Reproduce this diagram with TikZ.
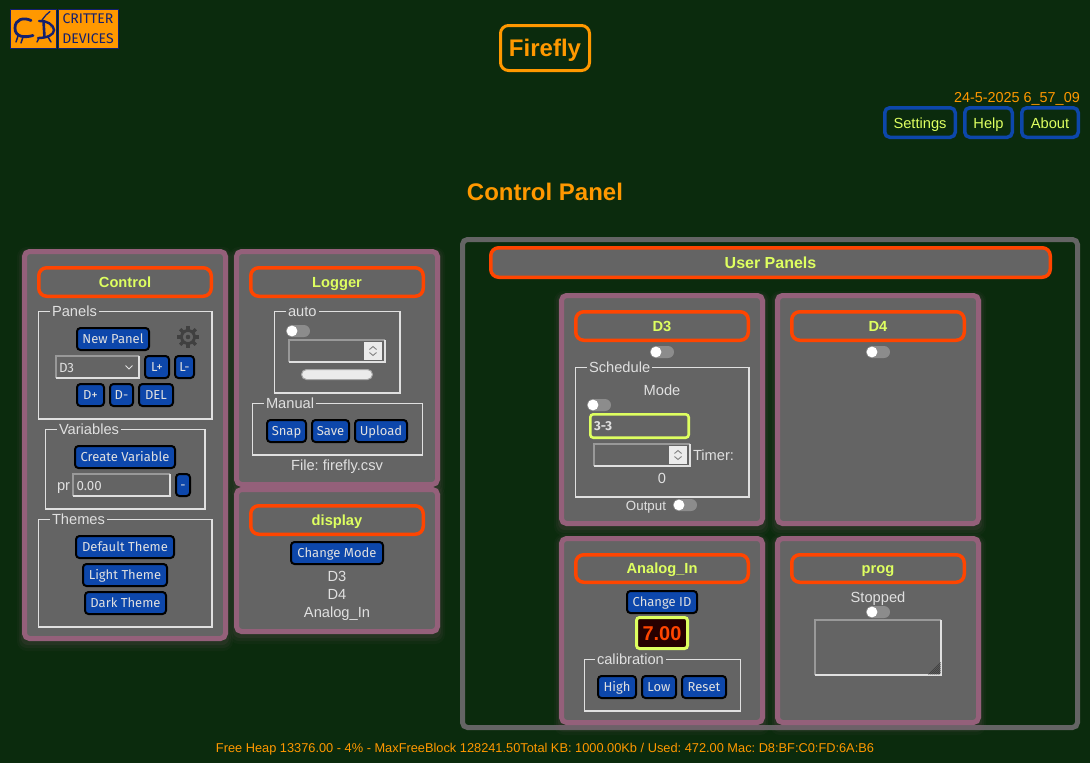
\documentclass[tikz,border=0pt]{standalone}
\usepackage{fontspec}
\setmainfont{Liberation Sans}
\newfontfamily\btnfont{Fira Sans}
\definecolor{bgc}{RGB}{11,43,13}
\definecolor{panelc}{RGB}{100,100,100}
\definecolor{rimc}{RGB}{148,96,122}
\definecolor{hdrc}{RGB}{255,69,0}
\definecolor{yelc}{RGB}{222,255,96}
\definecolor{bluec}{RGB}{13,71,171}
\definecolor{orc}{RGB}{255,152,0}
\definecolor{txtc}{RGB}{224,224,224}
\definecolor{navyc}{RGB}{20,32,110}
\newcommand\fs[1]{\fontsize{#1}{#1}\selectfont\frenchspacing}
\tikzset{
 bx/.style={rectangle,inner sep=0pt,outer sep=0pt,align=center},
 rimbox/.style={bx,draw=rimc,fill=panelc,line width=5pt,rounded corners=5pt},
 hdrbox/.style={bx,draw=hdrc,fill=panelc,line width=3.5pt,rounded corners=8pt,text=yelc,font=\fs{14.67}\bfseries,text height=12pt,text depth=2pt},
 bighdr/.style={hdrbox,font=\fs{16}\bfseries,text height=14pt,text depth=2pt},
 btnbox/.style={bx,draw=black,fill=bluec,line width=2pt,rounded corners=3.5pt,text=txtc,font=\btnfont\fs{13},text height=10.5pt,text depth=1.5pt},
 navbox/.style={bx,draw=bluec,line width=3.5pt,rounded corners=5pt,text=yelc,font=\fs{14.67},text height=12.5pt,text depth=1.5pt},
 fieldbox/.style={bx,draw=black!12!white,line width=1.4pt},
 legendtxt/.style={rectangle,fill=panelc,inner sep=0pt,outer sep=0pt,text=txtc,font=\fs{14.67},anchor=mid},
 lbl/.style={inner sep=0pt,outer sep=0pt,text=txtc,font=\fs{14.67},anchor=mid},
 insetbox/.style={bx,fill=panelc},
 chev/.style={draw=#1,line width=.9pt},
}
\newcommand\Bx[8]{%
 \pgfmathsetmacro\cxv{(#4+#6)/2}\pgfmathsetmacro\cyv{(#5+#7)/2}%
 \pgfmathsetmacro\wv{#6-#4-#2}\pgfmathsetmacro\hv{#7-#5-#2}%
 \node[#1,minimum width=\wv pt,minimum height=\hv pt] (#3) at (\cxv,\cyv) {#8};}
\newcommand\Btn[6]{\Bx{btnbox}{2}{#1}{#2}{#3}{#4}{#5}{#6}}
\newcommand\Hdr[6]{\Bx{hdrbox}{3.5}{#1}{#2}{#3}{#4}{#5}{#6}}
\newcommand\Glow[4]{%
 \fill[rimc,opacity=.05,rounded corners=10pt] (#1-5,#2-2) rectangle (#3+5,#4+10);
 \fill[rimc,opacity=.07,rounded corners=8pt] (#1-3,#2) rectangle (#3+3,#4+7);
 \fill[rimc,opacity=.10,rounded corners=7pt] (#1-1,#2+1) rectangle (#3+1,#4+4);}
\newcommand\Pan[5]{\Glow{#2}{#3}{#4}{#5}\Bx{rimbox}{5}{#1}{#2}{#3}{#4}{#5}{}}
\newcommand\Field[7]{\Bx{fieldbox}{1.4}{#1}{#2}{#3}{#4}{#5}{}%
 \node[legendtxt,anchor=base west,inner xsep=2pt,minimum height=8pt] (#1leg) at (#6-2,#3+5) {#7};}
\newcommand\Inset[5]{\Bx{insetbox}{2}{#1}{#2}{#3}{#4}{#5}{}%
 \draw[line width=2pt,draw=black!40!white] (#1.south west) |- (#1.north east);
 \draw[line width=2pt,draw=txtc] (#1.south west) -| (#1.north east);}
\newcommand\Tog[3]{%
 \node[bx,fill=black!45!white,rounded corners=6pt,minimum width=24pt,minimum height=12pt] (#1) at (#2+12,#3) {};
 \fill[white] (#2+6,#3) circle (5.4);}
\newcommand\Spin[3]{%
 \node[bx,fill=black!8!white,minimum width=18pt,minimum height=18pt] (#1) at (#2+9,#3+9) {};
 \draw[chev=black!50!white] (#2+5.5,#3+7.5) -- (#2+9,#3+4.5) -- (#2+12.5,#3+7.5);
 \draw[chev=black!50!white] (#2+5.5,#3+10.5) -- (#2+9,#3+13.5) -- (#2+12.5,#3+10.5);}
\begin{document}
\begin{tikzpicture}[x=1pt,y=-1pt]
\useasboundingbox (0,0) rectangle (1090,763);
\fill[bgc] (0,0) rectangle (1090,763);
% logo
\node[bx,draw=navyc,fill=orc,line width=1pt,minimum width=46pt,minimum height=39pt] (logoL) at (33.5,28.5) {};
\node[bx,draw=navyc,fill=orc,line width=1pt,minimum width=60pt,minimum height=39pt] (logoR) at (88,28.5) {};
\node[inner sep=0pt,text=navyc,font=\btnfont\fs{14}] (logo1) at (88,19) {CRITTER};
\node[inner sep=0pt,text=navyc,font=\btnfont\fs{14}] (logo2) at (88,38.5) {DEVICES};
\draw[navyc,line width=2.8pt,line cap=round] (31,20.5) .. controls (24,17) and (15,19) .. (15,28) .. controls (15,37) and (24,38) .. (33,35.5);
\draw[navyc,line width=2.6pt,line cap=round] (43.5,21) -- (44.5,37);
\draw[navyc,line width=2.4pt,line cap=round] (39,21) .. controls (46,20) and (54,25) .. (54,30) .. controls (54,35) and (47,38) .. (38,38);
\draw[navyc,line width=1.3pt,line cap=round] (42,20) -- (46,15) -- (50,11.5);
\draw[navyc,line width=1.5pt,line cap=round] (18,36) -- (16,42) (23,37) -- (21,43) (39,38) -- (37,42) (48,37) -- (51,42);
\fill[navyc] (51,27) circle (.7);
% top
\Bx{bx,draw=orc,line width=3pt,rounded corners=8pt,text=orc,font=\fs{24}\bfseries,text height=19pt,text depth=2pt}{3}{title}{499}{24}{591}{72}{Firefly}
\node[inner sep=0pt,text=orc,font=\fs{14.4},anchor=base east] (stamp) at (1080,102) {24-5-2025 6\_57\_09};
\Bx{navbox}{3.5}{settings}{883}{106}{957}{139}{Settings}
\Bx{navbox}{3.5}{help}{963}{106}{1014}{139}{Help}
\Bx{navbox}{3.5}{about}{1020}{106}{1080}{139}{About}
\node[inner sep=0pt,text=orc,font=\fs{24}\bfseries] (cp) at (545,192) {Control Panel};
% control
\Pan{ctrl}{22}{249}{228}{641}
\Hdr{ctrlh}{37}{266}{213}{298}{Control}
\Field{fpanels}{37.5}{311}{212.5}{419.5}{52}{Panels}
\Btn{newp}{76}{327}{150}{351}{New Panel}
\foreach \a in {0,45,...,315}{\draw[black!75!white,line width=3.2pt] (188,337) ++(\a:7) -- ++(\a:4);}
\draw[black!75!white,line width=2.8pt] (188,337) circle (6.5);
\fill[black!75!white] (188,337) circle (2.3);
\Inset{sel}{55}{355}{140}{379}
\node[lbl,font=\btnfont\fs{13.33},anchor=base west] (seltxt) at (59,372) {D3};
\draw[chev=txtc] (125.5,365.5) -- (129,369) -- (132.5,365.5);
\Btn{lp}{144}{355}{170}{379}{L+}
\Btn{lm}{174}{355}{195}{379}{L-}
\Btn{dp}{76}{383}{105}{407}{D+}
\Btn{dm}{109}{383}{134}{407}{D-}
\Btn{del}{138}{383}{174}{407}{DEL}
\Field{fvars}{44.5}{429}{205.5}{509.5}{59}{Variables}
\Btn{cvar}{74}{445}{176}{469}{Create Variable}
\node[lbl,anchor=base west] (pr) at (57,490) {pr};
\Inset{prin}{72}{473}{171}{497}
\node[lbl,font=\btnfont\fs{13.33},anchor=base west] (prv) at (76.5,490) {0.00};
\Btn{prm}{175}{473}{191}{497}{-}
\Field{fthemes}{37.5}{519}{212.5}{627.5}{52}{Themes}
\Btn{th1}{75}{535}{175}{559}{Default Theme}
\Btn{th2}{82}{563}{168}{587}{Light Theme}
\Btn{th3}{84}{591}{167}{615}{Dark Theme}
% logger
\Pan{logg}{234}{249}{440}{487}
\Hdr{loggh}{249}{266}{425}{298}{Logger}
\Field{fauto}{273.5}{311}{400.5}{393.5}{288}{auto}
\Tog{togauto}{286}{331}
\Inset{autoin}{288}{339}{386}{363}
\Spin{autosp}{364}{342}
\node[bx,draw=black!35!white,fill=black!8!white,line width=1pt,rounded corners=5pt,minimum width=71pt,minimum height=10pt] (slider) at (337,374.5) {};
\Field{fman}{251.5}{403}{423}{455.5}{266}{Manual}
\Btn{snap}{266}{419}{307}{443}{Snap}
\Btn{save}{311}{419}{350}{443}{Save}
\Btn{upl}{354}{419}{408}{443}{Upload}
\node[lbl,anchor=base] (file) at (337,470) {File: firefly.csv};
% display
\Pan{disp}{234}{487}{440}{634}
\Hdr{disph}{249}{504}{425}{536}{display}
\Btn{chm}{290}{541}{384}{565}{Change Mode}
\node[lbl,anchor=base] (d3t) at (337,581) {D3};
\node[lbl,anchor=base] (d4t) at (337,599) {D4};
\node[lbl,anchor=base] (ait) at (337,617) {Analog\_In};
% user panels
\node[bx,draw=panelc,line width=5pt,rounded corners=5pt,minimum width=615pt,minimum height=488pt] (user) at (770,483.5) {};
\Bx{bighdr}{3.5}{userh}{489}{246}{1052}{279}{User Panels}
% D3
\Pan{pd3}{559}{293}{765}{526}
\Hdr{pd3h}{574}{310}{750}{342}{D3}
\Tog{togd3}{650}{352}
\Field{fsch}{574.5}{367}{749.5}{497.5}{589}{Schedule}
\node[lbl,anchor=base] (mode) at (662,395) {Mode};
\Tog{togmode}{587}{405}
\Bx{bx,draw=yelc,fill=panelc,line width=2.6pt,rounded corners=3pt,text=txtc,font=\btnfont\fs{13}\bfseries,text width=91pt,align=left,text height=10.5pt,text depth=1.5pt}{2.6}{modein}{589}{413}{690}{439}{3-3}
\Inset{timein}{593}{443}{691}{467}
\Spin{timesp}{669}{446}
\node[lbl,anchor=base west] (timer) at (693,460) {Timer:};
\node[lbl,anchor=base] (zero) at (662,483) {0};
\node[lbl,font=\fs{13.33},anchor=base] (out) at (646,510) {Output};
\Tog{togout}{673}{505}
% D4
\Pan{pd4}{775}{293}{981}{526}
\Hdr{pd4h}{790}{310}{966}{342}{D4}
\Tog{togd4}{866}{352}
% Analog
\Pan{pai}{559}{536}{765}{725}
\Hdr{paih}{574}{553}{750}{584}{Analog\_In}
\Btn{chid}{626}{590}{698}{614}{Change ID}
\Bx{bx,draw=yelc,fill=black!85!red,line width=3pt,rounded corners=3pt,text=hdrc,font=\fs{20}\bfseries,text height=16pt,text depth=2pt}{3}{val}{635}{616}{689}{650}{7.00}
\Field{fcal}{583.5}{659}{741}{711.5}{597}{calibration}
\Btn{high}{597}{675}{637}{699}{High}
\Btn{low}{641}{675}{677}{699}{Low}
\Btn{reset}{681}{675}{727}{699}{Reset}
% prog
\Pan{pprog}{775}{536}{981}{725}
\Hdr{pprogh}{790}{553}{966}{584}{prog}
\node[lbl,anchor=base] (stop) at (878,602) {Stopped};
\Tog{togprog}{866}{612}
\Inset{ta}{814}{619}{942}{676}
\foreach \d in {2,4,...,12}{\draw[black!75!white,line width=.7pt] (940.5-\d,674.5) -- (940.5,674.5-\d);}
% footer
\node[inner sep=0pt,text=orc,font=\fs{12.8},anchor=base] (foot) at (545,752) {Free Heap 13376.00 - 4\% - MaxFreeBlock 128241.50Total KB: 1000.00Kb / Used: 472.00 Mac: D8:BF:C0:FD:6A:B6};
\end{tikzpicture}
\end{document}
